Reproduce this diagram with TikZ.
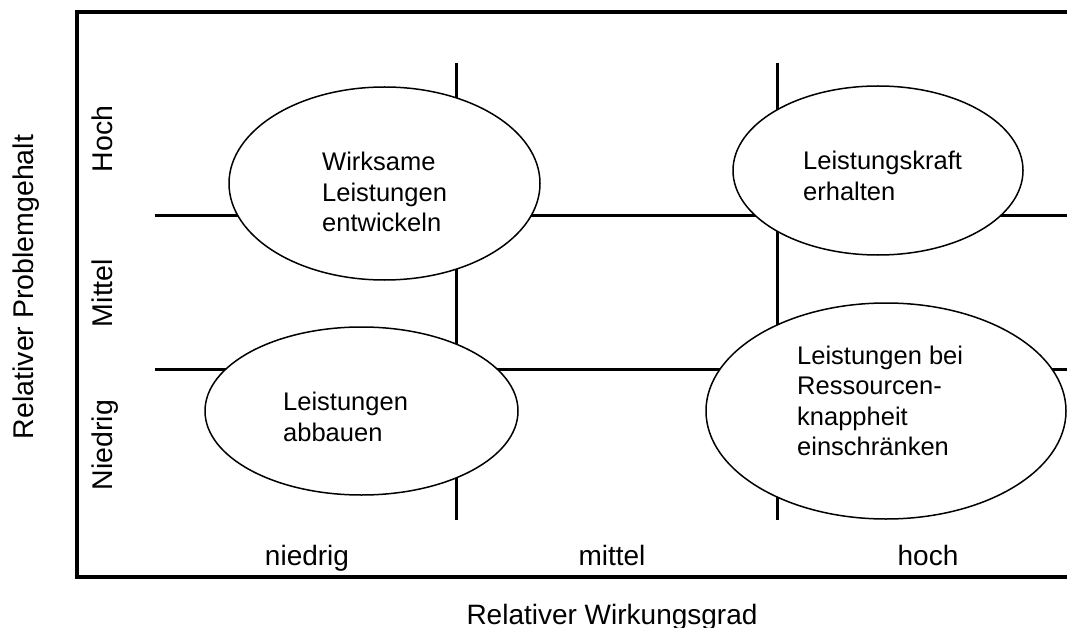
\documentclass[tikz,border=0pt]{standalone}
\usepackage{fontspec}
\setmainfont{Liberation Sans}
\usetikzlibrary{shapes.geometric}
\tikzset{
  grid/.style={line width=3pt},
  frame/.style={line width=3.3pt},
  oval/.style={ellipse, draw, line width=1.5pt, fill=white, inner sep=0pt},
  intext/.style={align=left, anchor=west, font=\fontsize{25.5}{30.5}\selectfont, inner sep=0pt},
  axlab/.style={font=\fontsize{28}{32}\selectfont, inner sep=0pt, anchor=base},
  vlab/.style={font=\fontsize{28.5}{32}\selectfont, inner sep=0pt, anchor=base, rotate=90},
}
\begin{document}
\begin{tikzpicture}[x=1pt,y=-1pt]
\useasboundingbox (0,0) rectangle (1067,628);
\clip (0,0) rectangle (1067,628);
% grid lines
\coordinate (h1a) at (155,216); \coordinate (h1b) at (1067,216);
\coordinate (h2a) at (155,369); \coordinate (h2b) at (1067,369);
\coordinate (v1a) at (456,63);  \coordinate (v1b) at (456,520);
\coordinate (v2a) at (777,63);  \coordinate (v2b) at (777,520);
\draw[grid] (h1a) -- (h1b);
\draw[grid] (h2a) -- (h2b);
\draw[grid] (v1a) -- (v1b);
\draw[grid] (v2a) -- (v2b);
% ellipses
\node[oval, minimum width=311pt, minimum height=193pt] (e1) at (384.5,183.5) {};
\node[oval, minimum width=290pt, minimum height=169pt] (e2) at (878,170.5) {};
\node[oval, minimum width=313pt, minimum height=168pt] (e3) at (361.5,411) {};
\node[oval, minimum width=360pt, minimum height=216pt] (e4) at (886,411) {};
% ellipse texts
\node[intext] (t1) at (322,192) {Wirksame\\Leistungen\\entwickeln};
\node[intext] (t2) at (803,176) {Leistungskraft\\erhalten};
\node[intext] (t3) at (283,417) {Leistungen\\abbauen};
\node[intext] (t4) at (797,401) {Leistungen bei\\Ressourcen-\\knappheit\\einschränken};
% frame
\coordinate (f1) at (77,12); \coordinate (f2) at (1080,12);
\coordinate (f3) at (1080,577); \coordinate (f4) at (77,577);
\draw[frame] (f2) -- (f1) -- (f4) -- (f3);
% axis labels
\node[axlab] (xl1) at (307,565) {niedrig};
\node[axlab] (xl2) at (612,565) {mittel};
\node[axlab] (xl3) at (928,565) {hoch};
\node[axlab] (xt) at (612,624) {Relativer Wirkungsgrad};
\node[vlab] (yl1) at (112,139) {Hoch};
\node[vlab] (yl2) at (112,293) {Mittel};
\node[vlab] (yl3) at (112,445) {Niedrig};
\node[vlab] (yt) at (33,287) {Relativer Problemgehalt};
\end{tikzpicture}
\end{document}
